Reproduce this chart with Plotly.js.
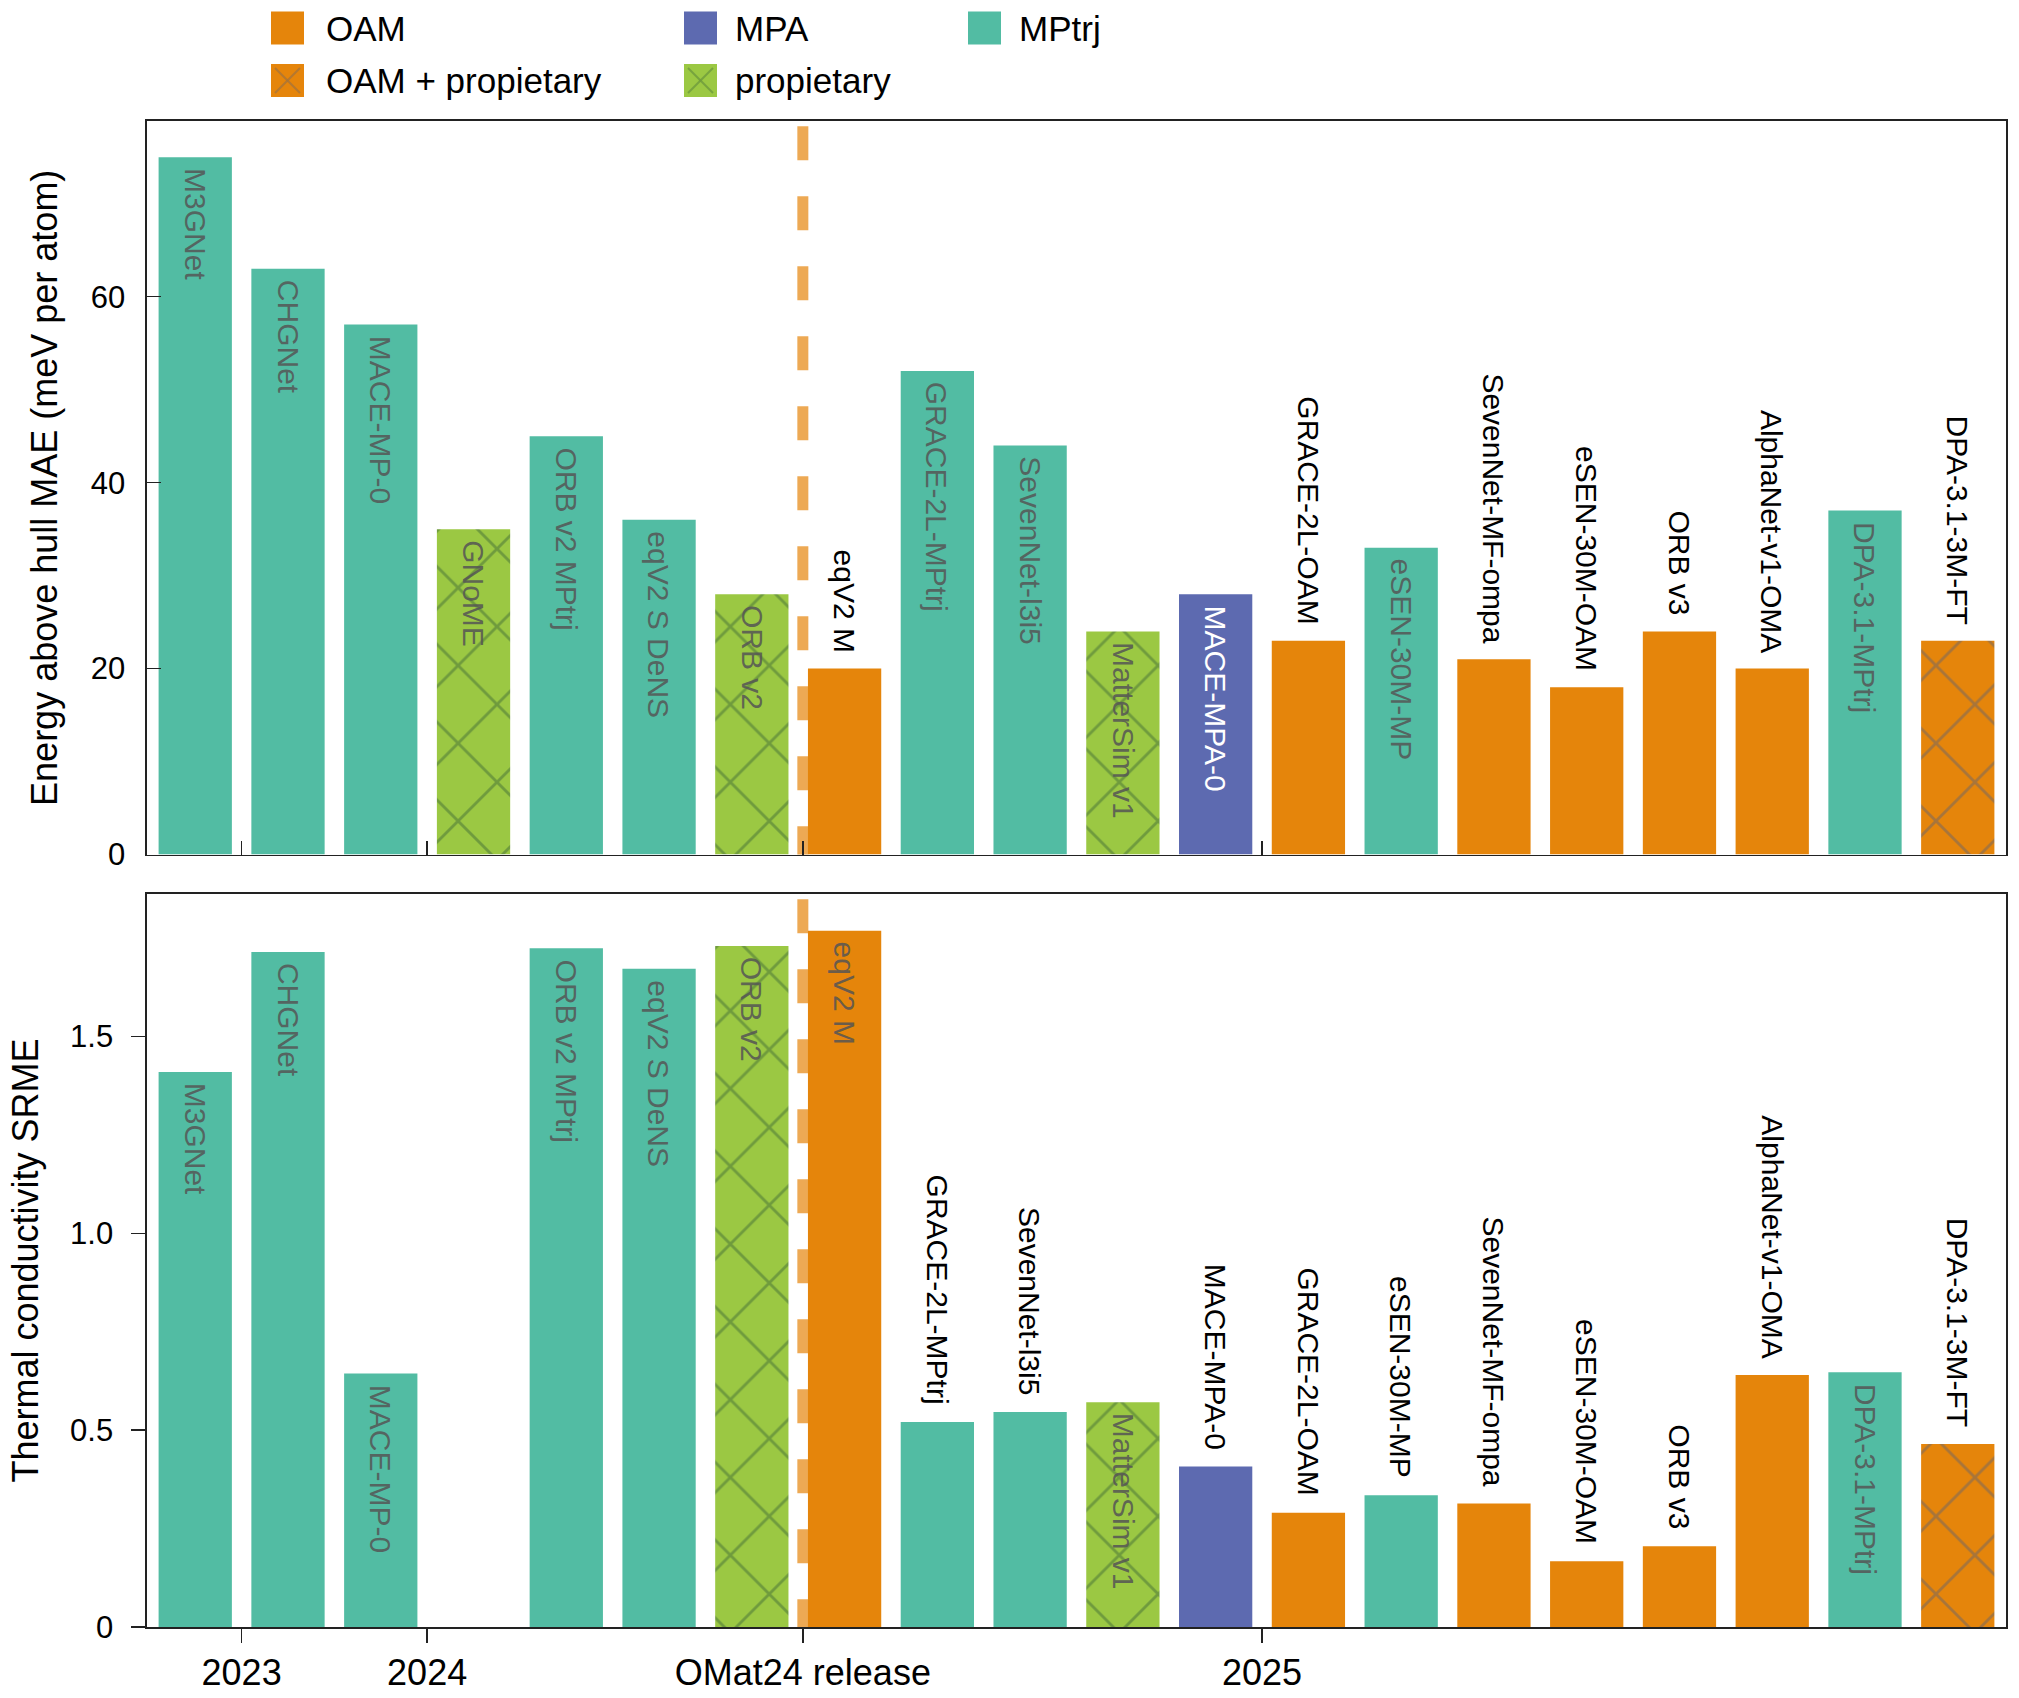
<!DOCTYPE html>
<html>
<head>
<meta charset="utf-8">
<script src="https://cdn.plot.ly/plotly-3.0.1.min.js"></script>
<style>html,body{margin:0;padding:0;background:#fff;}#chart{width:2019px;height:1698px;}</style>
</head>
<body>
<div id="chart"></div>
<script>
// ---------------- data ----------------
const models = ['M3GNet','CHGNet','MACE-MP-0','GNoME','ORB v2 MPtrj','eqV2 S DeNS','ORB v2','eqV2 M',
  'GRACE-2L-MPtrj','SevenNet-l3i5','MatterSim v1','MACE-MPA-0','GRACE-2L-OAM','eSEN-30M-MP',
  'SevenNet-MF-ompa','eSEN-30M-OAM','ORB v3','AlphaNet-v1-OMA','DPA-3.1-MPtrj','DPA-3.1-3M-FT'];
const trainingSet = ['MPtrj','MPtrj','MPtrj','propietary','MPtrj','MPtrj','propietary','OAM',
  'MPtrj','MPtrj','propietary','MPA','OAM','MPtrj',
  'OAM','OAM','OAM','OAM','MPtrj','OAM + propietary'];
const energyAboveHullMAE = [75,63,57,35,45,36,28,20,52,44,24,28,23,33,21,18,24,20,37,23];
const thermalSRME = [1.41,1.715,0.644,null,1.724,1.672,1.73,1.769,0.521,0.546,0.571,0.408,0.290,0.335,0.314,0.167,0.205,0.640,0.647,0.465];
const timelineTickVals = [0.5, 2.5, 6.55, 11.5];
const timelineTickText = ['2023','2024','OMat24 release','2025'];
const omatReleaseX = 6.55;
const energyTickVals = [0,20,40,60];
const srmeTickVals = [0,0.5,1,1.5];
const srmeTickText = ['0','0.5','1.0','1.5'];
const setNames = ['OAM','MPA','MPtrj','OAM + propietary','propietary'];
const legendOrder = [['OAM','OAM + propietary'],['MPA','propietary'],['MPtrj']];
// labels drawn above their bar instead of inside it
const energyLabelsOutside = ['eqV2 M','GRACE-2L-OAM','SevenNet-MF-ompa','eSEN-30M-OAM','ORB v3','AlphaNet-v1-OMA','DPA-3.1-3M-FT'];
const srmeLabelsOutside = ['GRACE-2L-MPtrj','SevenNet-l3i5','MACE-MPA-0','GRACE-2L-OAM','eSEN-30M-MP','SevenNet-MF-ompa','eSEN-30M-OAM','ORB v3','AlphaNet-v1-OMA','DPA-3.1-3M-FT'];

// ---------------- style ----------------
const FONT = 'Liberation Sans, Arial, sans-serif';
const setColor = {'OAM':'#e5850b','MPA':'#5d6ab0','MPtrj':'#52bca3','OAM + propietary':'#e5850b','propietary':'#9bc843'};
const setPatternFg = {'OAM + propietary':'#a8753a','propietary':'#6f9b3d'};
const insideGrey = 'rgba(85,85,85,0.85)';
const LABEL_SIZE = 30;

const W = 2019, H = 1698;
const M = {l:147, r:13, t:121, b:71};
const plotW = W - M.l - M.r, plotH = H - M.t - M.b;
const px2x = px => (px - M.l) / plotW;
const px2y = py => (H - M.b - py) / plotH;

function barTraces(values, xa, ya) {
  return setNames.map(set => {
    const idx = models.map((_, i) => i).filter(i => trainingSet[i] === set && values[i] != null);
    const pattern = setPatternFg[set]
      ? {shape: 'x', fgcolor: setPatternFg[set], fgopacity: 1, size: 55, solidity: 0.1, fillmode: 'overlay'}
      : {shape: ''};
    return {
      type: 'bar', x: idx, y: idx.map(i => values[i]), xaxis: xa, yaxis: ya,
      width: 0.79,
      marker: {color: setColor[set], line: {width: 0}, pattern: pattern},
      name: set,
      hoverinfo: 'x+y',
      showlegend: false
    };
  });
}

const traces = [].concat(
  barTraces(energyAboveHullMAE, 'x', 'y'),
  barTraces(thermalSRME, 'x2', 'y2')
);

const annotations = [];
function barLabels(values, outsideList, xa, ya, outShift) {
  models.forEach((m, i) => {
    if (values[i] == null) return;
    const outside = outsideList.includes(m);
    annotations.push({
      xref: xa, yref: ya, x: i, y: values[i], text: m, showarrow: false, textangle: 90,
      xanchor: 'center', yanchor: outside ? 'bottom' : 'top',
      yshift: outside ? outShift : -9,
      font: {family: FONT, size: LABEL_SIZE,
        color: outside ? '#000' : (trainingSet[i] === 'MPA' ? '#ffffff' : insideGrey)}
    });
  });
}
barLabels(energyAboveHullMAE, energyLabelsOutside, 'x', 'y', 14);
barLabels(thermalSRME, srmeLabelsOutside, 'x2', 'y2', 15);

const dashLine = (yref) => ({
  type: 'line', xref: 'x', yref: yref, x0: omatReleaseX, x1: omatReleaseX, y0: 0.993, y1: 0,
  line: {color: 'rgba(229,133,11,0.7)', width: 11, dash: '34px,36px'}, layer: 'below'
});

const shapes = [dashLine('y domain'), dashLine('y2 domain')];

// manual legend
const colX = [[271,324],[684,733],[968,1017]];
const rowY = [28, 80.5];
const sw = 33;
legendOrder.forEach((col, ci) => {
  col.forEach((name, ri) => {
    const x0 = colX[ci][0], yc = rowY[ri];
    shapes.push({type:'rect', xref:'paper', yref:'paper',
      x0: px2x(x0), x1: px2x(x0+sw), y0: px2y(yc+sw/2), y1: px2y(yc-sw/2),
      fillcolor: setColor[name], line: {width: 0}, layer: 'above'});
    if (setPatternFg[name]) {
      shapes.push({type:'line', xref:'paper', yref:'paper',
        x0: px2x(x0+4), x1: px2x(x0+sw-4), y0: px2y(yc+sw/2-4), y1: px2y(yc-sw/2+4),
        line: {color: setPatternFg[name], width: 2}, layer: 'above', opacity: 0.8});
      shapes.push({type:'line', xref:'paper', yref:'paper',
        x0: px2x(x0+4), x1: px2x(x0+sw-4), y0: px2y(yc-sw/2+4), y1: px2y(yc+sw/2-4),
        line: {color: setPatternFg[name], width: 2}, layer: 'above', opacity: 0.8});
    }
    annotations.push({xref:'paper', yref:'paper', x: px2x(colX[ci][1]), y: px2y(yc),
      xanchor:'left', yanchor:'middle', text: name, showarrow: false,
      font: {family: FONT, size: 35, color: '#000'}});
  });
});

const axisLine = {showline: true, linecolor: '#222', linewidth: 1.6, mirror: true, showgrid: false, zeroline: false};

const layout = {
  width: W, height: H,
  margin: M,
  paper_bgcolor: '#fff', plot_bgcolor: '#fff',
  font: {family: FONT, color: '#000'},
  barmode: 'overlay',
  showlegend: false,
  xaxis: Object.assign({}, axisLine, {
    anchor: 'y', range: [-0.52, 19.52], domain: [0, 1],
    tickvals: timelineTickVals, ticktext: timelineTickText, showticklabels: false,
    ticks: 'inside', ticklen: 14, tickwidth: 1.5, tickcolor: '#222'
  }),
  yaxis: Object.assign({}, axisLine, {
    anchor: 'x', domain: [0.5129, 1], range: [0, 78.9],
    tickvals: energyTickVals, ticks: 'inside', ticklen: 14, tickwidth: 1.5, tickcolor: '#222',
    tickfont: {family: FONT, size: 31}, ticklabelstandoff: 14,
    title: {text: 'Energy above hull MAE (meV per atom)', font: {family: FONT, size: 36}, standoff: 22}
  }),
  xaxis2: Object.assign({}, axisLine, {
    anchor: 'y2', matches: 'x', range: [-0.52, 19.52], domain: [0, 1],
    tickvals: timelineTickVals, ticktext: timelineTickText,
    ticks: 'outside', ticklen: 14, tickwidth: 1.5, tickcolor: '#222',
    tickfont: {family: FONT, size: 36}, ticklabelstandoff: -1
  }),
  yaxis2: Object.assign({}, axisLine, {
    anchor: 'x2', domain: [0, 0.4867], range: [0, 1.862],
    tickvals: srmeTickVals, ticktext: srmeTickText,
    ticks: 'outside', ticklen: 14, tickwidth: 1.5, tickcolor: '#222',
    tickfont: {family: FONT, size: 31}, ticklabelstandoff: 12,
    title: {text: 'Thermal conductivity SRME', font: {family: FONT, size: 36}, standoff: 20}
  }),
  shapes: shapes,
  annotations: annotations
};

Plotly.newPlot('chart', traces, layout, {staticPlot: true, displayModeBar: false});
</script>
</body>
</html>
